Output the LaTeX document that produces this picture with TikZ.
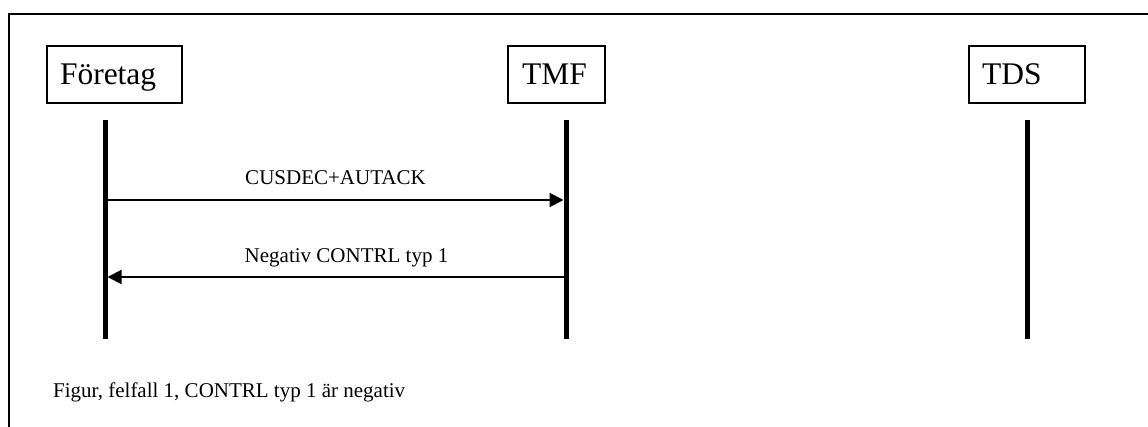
\documentclass[tikz,border=0pt]{standalone}
\usepackage{fontspec}
\setmainfont{Liberation Serif}
\usetikzlibrary{arrows.meta}
\begin{document}
\begin{tikzpicture}[x=1pt,y=-1pt,
  actor/.style={draw, line width=1.3pt, minimum height=57pt, inner xsep=13pt, inner ysep=0pt,
     text height=20.5pt, text depth=0pt, align=left, font=\fontsize{31.5}{31.5}\selectfont},
  lifeline/.style={line width=5pt},
  msg/.style={line width=2pt, -{Triangle[length=14pt,width=14pt]}, shorten >=2.5pt},
  msglabel/.style={anchor=base, font=\fontsize{21}{21}\selectfont},
  frame/.style={line width=1.4pt}]
\useasboundingbox (0,0) rectangle (1148,427);
% frame (right and bottom run off the picture)
\coordinate (fbl) at (9,430);
\coordinate (ftl) at (9,14);
\coordinate (ftr) at (1150,14);
\draw[frame] (fbl) -- (ftl) -- (ftr);
% actors
\node[actor, text width=109pt] (foretag) at (114.5,74.5) {Företag};
\node[actor, text width=69pt, inner xsep=14pt] (tmf) at (556.5,74.5) {TMF};
\node[actor, text width=90pt] (tds) at (1027,74.5) {TDS};
% lifelines
\coordinate (fTop) at (105,120); \coordinate (fBot) at (105,339);
\coordinate (tTop) at (566,120); \coordinate (tBot) at (566,339);
\coordinate (dTop) at (1027,120); \coordinate (dBot) at (1027,339);
\draw[lifeline] (fTop) -- (fBot);
\draw[lifeline] (tTop) -- (tBot);
\draw[lifeline] (dTop) -- (dBot);
% messages
\coordinate (f1) at (105,200); \coordinate (t1) at (566,200);
\coordinate (f2) at (105,277); \coordinate (t2) at (566,277);
\draw[msg] (f1) -- node[msglabel, yshift=15pt] (m1) {CUSDEC+AUTACK} (t1);
\draw[msg] (t2) -- node[msglabel, yshift=14pt, xshift=11pt] (m2) {Negativ CONTRL typ 1} (f2);
% caption
\node[anchor=base west, inner sep=0pt, font=\fontsize{21}{21}\selectfont] (caption) at (53,397) {Figur, felfall 1, CONTRL typ 1 är negativ};
\end{tikzpicture}
\end{document}
